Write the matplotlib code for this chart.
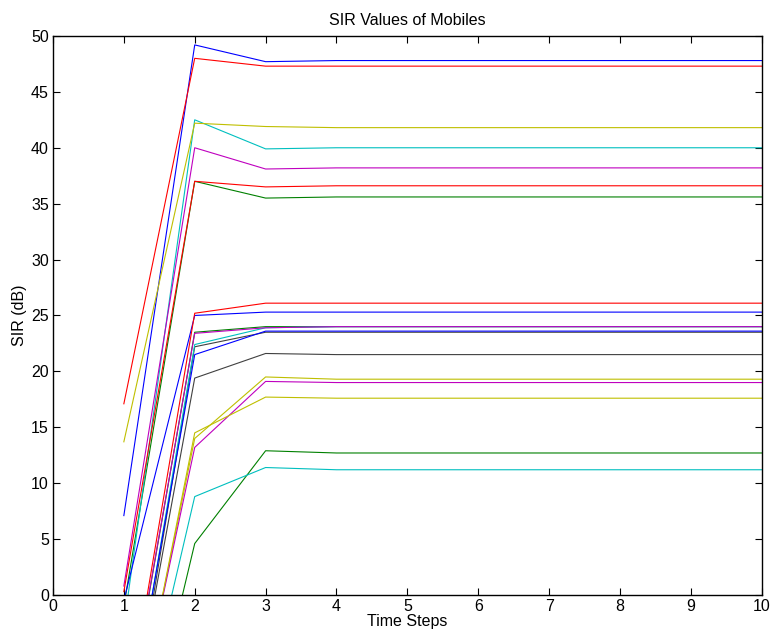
import matplotlib
matplotlib.use("Agg")
import matplotlib.pyplot as plt

plt.rcParams["font.family"] = ["Liberation Sans", "DejaVu Sans"]

# time steps 1..10, one row of SIR (dB) per mobile
time_steps = [1, 2, 3, 4, 5, 6, 7, 8, 9, 10]
sir_db = [
    [7.1, 49.2, 47.7, 47.8, 47.8, 47.8, 47.8, 47.8, 47.8, 47.8],
    [-1.0, 37.0, 35.5, 35.6, 35.6, 35.6, 35.6, 35.6, 35.6, 35.6],
    [17.1, 48.0, 47.3, 47.3, 47.3, 47.3, 47.3, 47.3, 47.3, 47.3],
    [-2.7, 42.5, 39.9, 40.0, 40.0, 40.0, 40.0, 40.0, 40.0, 40.0],
    [0.8, 40.0, 38.1, 38.2, 38.2, 38.2, 38.2, 38.2, 38.2, 38.2],
    [13.7, 42.2, 41.9, 41.8, 41.8, 41.8, 41.8, 41.8, 41.8, 41.8],
    [-16.0, 22.2, 23.5, 23.5, 23.5, 23.5, 23.5, 23.5, 23.5, 23.5],
    [-0.5, 25.0, 25.3, 25.3, 25.3, 25.3, 25.3, 25.3, 25.3, 25.3],
    [-12.9, 23.5, 24.0, 24.0, 24.0, 24.0, 24.0, 24.0, 24.0, 24.0],
    [0.3, 37.0, 36.5, 36.6, 36.6, 36.6, 36.6, 36.6, 36.6, 36.6],
    [-14.9, 22.4, 23.9, 24.0, 24.0, 24.0, 24.0, 24.0, 24.0, 24.0],
    [-12.6, 23.4, 23.9, 24.0, 24.0, 24.0, 24.0, 24.0, 24.0, 24.0],
    [-17.1, 14.0, 19.5, 19.3, 19.3, 19.3, 19.3, 19.3, 19.3, 19.3],
    [-15.2, 19.4, 21.6, 21.5, 21.5, 21.5, 21.5, 21.5, 21.5, 21.5],
    [-14.3, 21.5, 23.6, 23.6, 23.6, 23.6, 23.6, 23.6, 23.6, 23.6],
    [-22.0, 4.6, 12.9, 12.7, 12.7, 12.7, 12.7, 12.7, 12.7, 12.7],
    [-12.4, 25.2, 26.1, 26.1, 26.1, 26.1, 26.1, 26.1, 26.1, 26.1],
    [-18.4, 8.8, 11.4, 11.2, 11.2, 11.2, 11.2, 11.2, 11.2, 11.2],
    [-16.5, 13.2, 19.1, 19.0, 19.0, 19.0, 19.0, 19.0, 19.0, 19.0],
    [-17.5, 14.5, 17.7, 17.6, 17.6, 17.6, 17.6, 17.6, 17.6, 17.6],
]

# MATLAB default colour order
color_order = [(0, 0, 1), (0, 0.5, 0), (1, 0, 0), (0, 0.75, 0.75),
               (0.75, 0, 0.75), (0.75, 0.75, 0), (0.25, 0.25, 0.25)]

fig = plt.figure(figsize=(7.71, 6.41), dpi=100)
ax = fig.add_axes([0.0687, 0.0718, 0.9193, 0.8721])

for i, row in enumerate(sir_db):
    ax.plot(time_steps, row, color=color_order[i % len(color_order)], lw=0.8)

ax.set_xlim(0, 10)
ax.set_ylim(0, 50)
ax.set_xticks(range(0, 11))
ax.set_yticks(range(0, 51, 5))
ax.tick_params(direction="in", top=True, right=True, length=5, labelsize=11.5, pad=3)
for s in ax.spines.values():
    s.set_linewidth(1.0)

ax.set_title("SIR Values of Mobiles", fontsize=11.5, pad=8)
ax.set_xlabel("Time Steps", fontsize=11.5, labelpad=0)
ax.set_ylabel("SIR (dB)", fontsize=11.5, labelpad=3)

fig.savefig("out.png", dpi=100)
